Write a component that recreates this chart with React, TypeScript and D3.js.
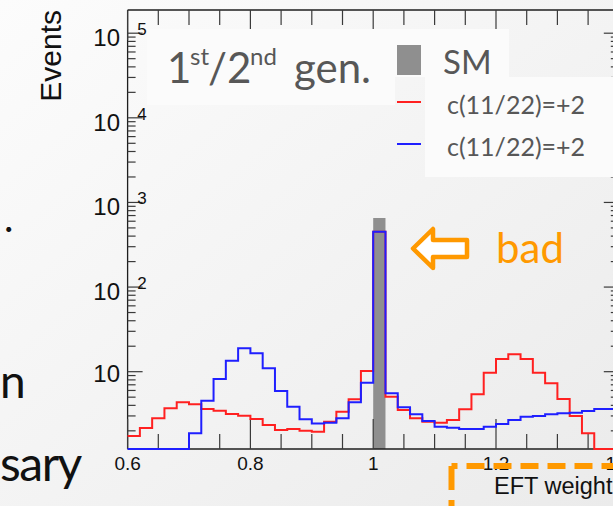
import React from 'react';
import * as d3 from 'd3';

const W = 613;
const H = 506;

// Histogram binning on the x axis (EFT weight): 40 bins of 0.02 from 0.6 to 1.4
const binLow = 0.6;
const binWidth = 0.02;

// Events per bin (0 = empty / below the axis minimum)
const smValues = [
  0, 0, 0, 0, 0, 0, 0, 0, 0, 0,
  0, 0, 0, 0, 0, 0, 0, 0, 0, 0,
  656, 0, 0, 0, 0, 0, 0, 0, 0, 0,
  0, 0, 0, 0, 0, 0, 0, 0, 0, 0,
];
const redValues = [
  1.74, 2.16, 2.81, 3.69, 4.35, 4.12, 3.62, 3.46, 3.16, 3.02,
  2.76, 2.34, 2.05, 2.10, 2.01, 1.95, 2.56, 3.37, 4.72, 10.2,
  452, 5.06, 3.53, 2.81, 2.56, 2.49, 2.69, 3.59, 5.41, 9.73,
  14.1, 16.1, 14.1, 9.73, 7.29, 4.76, 2.99, 1.87, 0, 0,
];
const blueValues = [
  0, 0, 0, 0, 0, 1.87, 4.54, 8.2, 13.5, 18.9,
  16.5, 11.0, 5.91, 3.86, 2.74, 2.45, 2.49, 2.81, 4.35, 7.41,
  452, 5.55, 3.79, 3.14, 2.61, 2.24, 2.18, 2.10, 2.10, 2.24,
  2.41, 2.69, 2.94, 2.99, 3.14, 3.22, 3.28, 3.43, 3.62, 3.62,
];

const xTickValues = [0.6, 0.8, 1.0, 1.2, 1.4];
const xTickLabels = ['0.6', '0.8', '1', '1.2', '1.4'];
const yTickValues = [10, 100, 1000, 10000, 100000];
const yTickBase = ['10', '10', '10', '10', '10'];
const yTickExp = ['', '2', '3', '4', '5'];

const legendLabels = ['SM', 'c(11/22)=+2', 'c(11/22)=+2'];
const seriesColors = ['#8f8f8f', '#ff2020', '#1f1fff'];

const yAxisTitle = 'Events';
const annotationText = 'bad';
const bottomBoxText = 'EFT weight';

const X0 = 127.6;
const X1 = 618.8;
const YB = 449;
const YT = 10;
const yMin = 1.22;
const yMax = 1.88e5;

const AXIS_FONT = '"Liberation Sans", Arial, Helvetica, sans-serif';
const SLIDE_FONT = 'Lato, "Open Sans", sans-serif';
const ORANGE = '#ff9900';
const GRAYTXT = '#575757';

export default function App() {
  const x = d3.scaleLinear().domain([0.6, 1.4]).range([X0, X1]);
  const y = d3.scaleLog().domain([yMin, yMax]).range([YB, YT]).clamp(true);
  const yv = (v: number) => (v > yMin ? y(v) : YB);

  const stepPts = (vals: number[]) => {
    const pts: [number, number][] = vals.map((v, i) => [binLow + i * binWidth, v]);
    pts.push([binLow + vals.length * binWidth, vals[vals.length - 1]]);
    return pts;
  };

  const line = d3
    .line<[number, number]>()
    .x((d) => x(d[0]))
    .y((d) => yv(d[1]))
    .curve(d3.curveStepAfter);
  const area = d3
    .area<[number, number]>()
    .x((d) => x(d[0]))
    .y0(YB)
    .y1((d) => yv(d[1]))
    .curve(d3.curveStepAfter);

  const xMinor = x.ticks(16);
  const xMajor = x.ticks(4);
  const isXMajor = (t: number) => xMajor.some((m) => Math.abs(m - t) < 1e-9);
  const yAll = y.ticks().filter((t) => t >= yMin && t <= yMax);
  const isYMajor = (t: number) => Math.abs(Math.log10(t) - Math.round(Math.log10(t))) < 1e-9;

  const tickStroke = '#3a3a3a';

  return (
    <svg
      width={W}
      height={H}
      viewBox={`0 0 ${W} ${H}`}
      style={{ position: 'absolute', left: 0, top: 0, display: 'block' }}
    >
      <defs>
        <linearGradient id="bg" x1="0" y1="0" x2="1" y2="1">
          <stop offset="0%" stopColor="#fcfcfc" />
          <stop offset="100%" stopColor="#ebebeb" />
        </linearGradient>
      </defs>
      <rect x={0} y={0} width={W} height={H} fill="url(#bg)" />

      {/* SM filled histogram */}
      <path d={area(stepPts(smValues)) || ''} fill={seriesColors[0]} stroke="none" />

      {/* frame */}
      <g stroke="#1e1e1e" strokeWidth={1.3} fill="none">
        <line x1={X0} y1={YT} x2={X0} y2={YB} />
        <line x1={X0} y1={YB} x2={X1} y2={YB} />
        <line x1={X0} y1={YT} x2={X1} y2={YT} />
        <line x1={X1} y1={YT} x2={X1} y2={YB} />
      </g>

      {/* ticks */}
      <g stroke={tickStroke} strokeWidth={1.2}>
        {xMinor.map((t, i) => {
          const len = isXMajor(t) ? 30 : 15;
          return (
            <g key={i}>
              <line x1={x(t)} x2={x(t)} y1={YB} y2={YB - len} />
              <line x1={x(t)} x2={x(t)} y1={YT} y2={YT + len} />
            </g>
          );
        })}
        {yAll.map((t, i) => {
          const len = isYMajor(t) ? 15 : 8;
          return (
            <g key={'y' + i}>
              <line x1={X0} x2={X0 + len} y1={y(t)} y2={y(t)} />
              <line x1={X1} x2={X1 - len} y1={y(t)} y2={y(t)} />
            </g>
          );
        })}
      </g>

      {/* red and blue step histograms */}
      <path d={line(stepPts(redValues)) || ''} fill="none" stroke={seriesColors[1]} strokeWidth={2} />
      <path d={line(stepPts(blueValues)) || ''} fill="none" stroke={seriesColors[2]} strokeWidth={2} />

      {/* x tick labels */}
      <g fontFamily={AXIS_FONT} fontSize={19} fill="#111" textAnchor="middle">
        {xTickValues.map((v, i) => (
          <text key={i} x={x(v)} y={470}>
            {xTickLabels[i]}
          </text>
        ))}
      </g>

      {/* y tick labels */}
      <g fontFamily={AXIS_FONT} fill="#111" textAnchor="end">
        {yTickValues.map((v, i) =>
          yTickExp[i] === '' ? (
            <text key={i} x={120} y={y(v) + 10} fontSize={24}>
              {yTickBase[i]}
            </text>
          ) : (
            <text key={i} x={120}>
              <tspan y={y(v) + 13} fontSize={24}>
                {yTickBase[i]}
              </tspan>
              <tspan y={y(v) + 2} fontSize={17}>
                {yTickExp[i]}
              </tspan>
            </text>
          )
        )}
      </g>

      {/* y axis title */}
      <text
        transform="translate(61,10) rotate(-90)"
        textAnchor="end"
        fontFamily={AXIS_FONT}
        fontSize={30}
        fill="#111"
      >
        {yAxisTitle}
      </text>

      {/* slide overlay boxes */}
      <rect x={147} y={29} width={248} height={76} fill="#fbfbfb" />
      <rect x={395} y={29} width={114} height={48} fill="#fbfbfb" />
      <rect x={425} y={77} width={200} height={100} fill="#fbfbfb" />

      {/* legend swatches */}
      <rect x={397} y={45} width={24} height={30} fill={seriesColors[0]} />
      <line x1={397} x2={421} y1={102} y2={102} stroke={seriesColors[1]} strokeWidth={2} />
      <line x1={397} x2={421} y1={144} y2={144} stroke={seriesColors[2]} strokeWidth={2} />

      {/* generation label */}
      <text fontFamily={SLIDE_FONT} fill={GRAYTXT} fontSize={42}>
        <tspan x={167} y={83}>1</tspan>
        <tspan x={190} y={65} fontSize={24}>st</tspan>
        <tspan x={208} y={83}>/2</tspan>
        <tspan x={250} y={65} fontSize={24}>nd</tspan>
        <tspan x={294} y={83}>gen.</tspan>
      </text>

      {/* legend labels */}
      <text x={443} y={74} fontFamily={SLIDE_FONT} fontSize={33} fill={GRAYTXT}>
        {legendLabels[0]}
      </text>
      <text x={447} y={114} fontFamily={SLIDE_FONT} fontSize={25} fill={GRAYTXT}>
        {legendLabels[1]}
      </text>
      <text x={447} y={156} fontFamily={SLIDE_FONT} fontSize={25} fill={GRAYTXT}>
        {legendLabels[2]}
      </text>

      {/* arrow + bad */}
      <path
        d="M413,248.5 L433,229 L433,240 L467,240 L467,257 L433,257 L433,268 Z"
        fill="#ffffff"
        stroke={ORANGE}
        strokeWidth={4.5}
        strokeLinejoin="round"
      />
      <text x={496} y={263} fontFamily={SLIDE_FONT} fontSize={42} fill={ORANGE}>
        {annotationText}
      </text>

      {/* slide body text fragments */}
      <g fontFamily={SLIDE_FONT} fill="#111">
        <text x={4} y={232} fontSize={40}>.</text>
        <text x={0} y={398} fontSize={46}>n</text>
        <text x={0} y={481} fontSize={48} letterSpacing={-1.5}>sary</text>
      </g>

      {/* dashed orange box */}
      <path d="M451.5,466 V520" stroke={ORANGE} strokeWidth={6} fill="none" strokeDasharray="24 10" />
      <path d="M451.5,466 H640" stroke={ORANGE} strokeWidth={6} fill="none" strokeDasharray="18 9" strokeDashoffset={12} />
      <text x={494} y={494} fontFamily={AXIS_FONT} fontSize={23.5} fill="#111">
        {bottomBoxText}
      </text>
    </svg>
  );
}
